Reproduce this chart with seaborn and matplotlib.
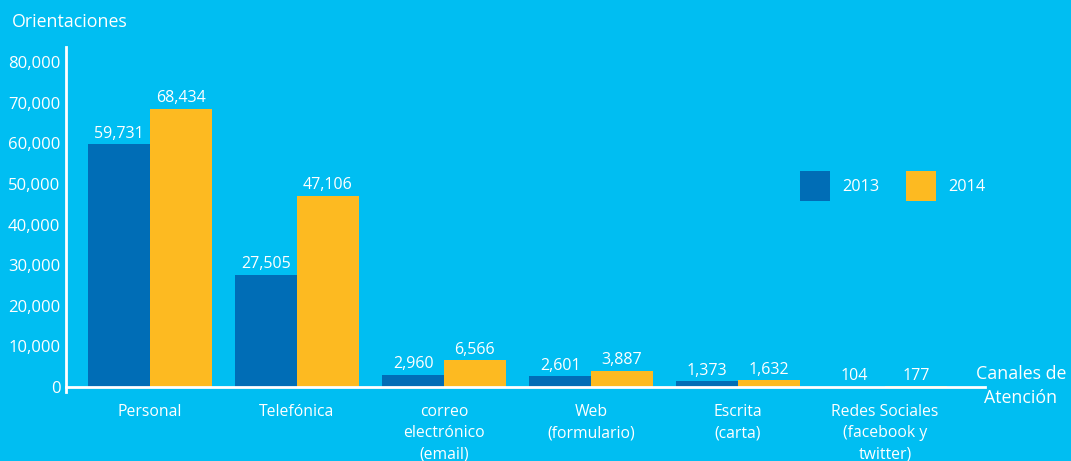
import matplotlib
matplotlib.use("Agg")
import matplotlib.pyplot as plt
import seaborn as sns
import pandas as pd
from matplotlib.ticker import FuncFormatter, FixedLocator

# Channels of attention and number of orientations per year
canales = ["Personal", "Telefónica", "correo\nelectrónico\n(email)", "Web\n(formulario)",
           "Escrita\n(carta)", "Redes Sociales\n(facebook y\ntwitter)"]
valores_2013 = [59731, 27505, 2960, 2601, 1373, 104]
valores_2014 = [68434, 47106, 6566, 3887, 1632, 177]
anios = ["2013", "2014"]
yticks = [0, 10000, 20000, 30000, 40000, 50000, 60000, 70000, 80000]

BG = "#00BEF2"
AZUL = "#006DB6"
AMARILLO = "#FDBA21"
BLANCO = "white"

df = pd.DataFrame({
    "canal": canales * 2,
    "anio": [anios[0]] * len(canales) + [anios[1]] * len(canales),
    "valor": valores_2013 + valores_2014,
})

sns.set_theme(style="white")
plt.rcParams["font.family"] = ["Open Sans", "DejaVu Sans"]

fig = plt.figure(figsize=(10.71, 4.61), dpi=100, facecolor=BG)
ax = fig.add_axes([66 / 1071, 1 - 392 / 461, (985 - 66) / 1071, (392 - 47) / 461])
ax.set_facecolor(BG)

sns.barplot(data=df, x="canal", y="valor", hue="anio", order=canales, hue_order=anios,
            palette=[AZUL, AMARILLO], width=0.84, gap=0, saturation=1,
            edgecolor="none", linewidth=0, ax=ax)

ax.set_xlim(-0.571, 5.68)
ax.set_ylim(-1230, 83700)

for cont in ax.containers:
    ax.bar_label(cont, labels=[f"{v:,.0f}" for v in cont.datavalues],
                 padding=2, color=BLANCO, fontsize=11.5)

# Axis styling
for s in ["top", "right"]:
    ax.spines[s].set_visible(False)
ax.spines["bottom"].set_position(("data", 0))
ax.spines["bottom"].set_color(BLANCO)
ax.spines["bottom"].set_linewidth(2)
ax.spines["left"].set_color(BLANCO)
ax.spines["left"].set_linewidth(2)

ax.yaxis.set_major_locator(FixedLocator(yticks))
ax.yaxis.set_major_formatter(FuncFormatter(lambda v, p: f"{v:,.0f}"))
ax.yaxis.set_minor_locator(FixedLocator([0]))
ax.tick_params(axis="y", which="major", length=0, pad=4, labelcolor=BLANCO, labelsize=12)
ax.tick_params(axis="y", which="minor", length=6, width=2, color=BLANCO)
ax.tick_params(axis="x", length=0, pad=12, labelcolor=BLANCO, labelsize=11.3)
for lbl in ax.get_xticklabels():
    lbl.set_linespacing(1.45)
    lbl.set_verticalalignment("top")

ax.set_xlabel("")
ax.set_ylabel("")

fig.text(12 / 1071, 1 - 22 / 461, "Orientaciones", color=BLANCO, fontsize=12.8,
         ha="left", va="center")
fig.text(1021 / 1071, 1 - 386 / 461, "Canales de\nAtención", color=BLANCO, fontsize=12.8,
         ha="center", va="center", linespacing=1.4)

handles, labels = ax.get_legend_handles_labels()
ax.legend(handles, labels, ncol=2, frameon=False, loc="center left",
          bbox_to_anchor=(800 / 1071, 1 - 186 / 461), bbox_transform=fig.transFigure,
          borderaxespad=0, borderpad=0, handlelength=1.85, handleheight=2.5,
          handletextpad=0.75, columnspacing=1.65, labelcolor=BLANCO, fontsize=11.7)

fig.savefig("out.png", dpi=100, facecolor=BG)
